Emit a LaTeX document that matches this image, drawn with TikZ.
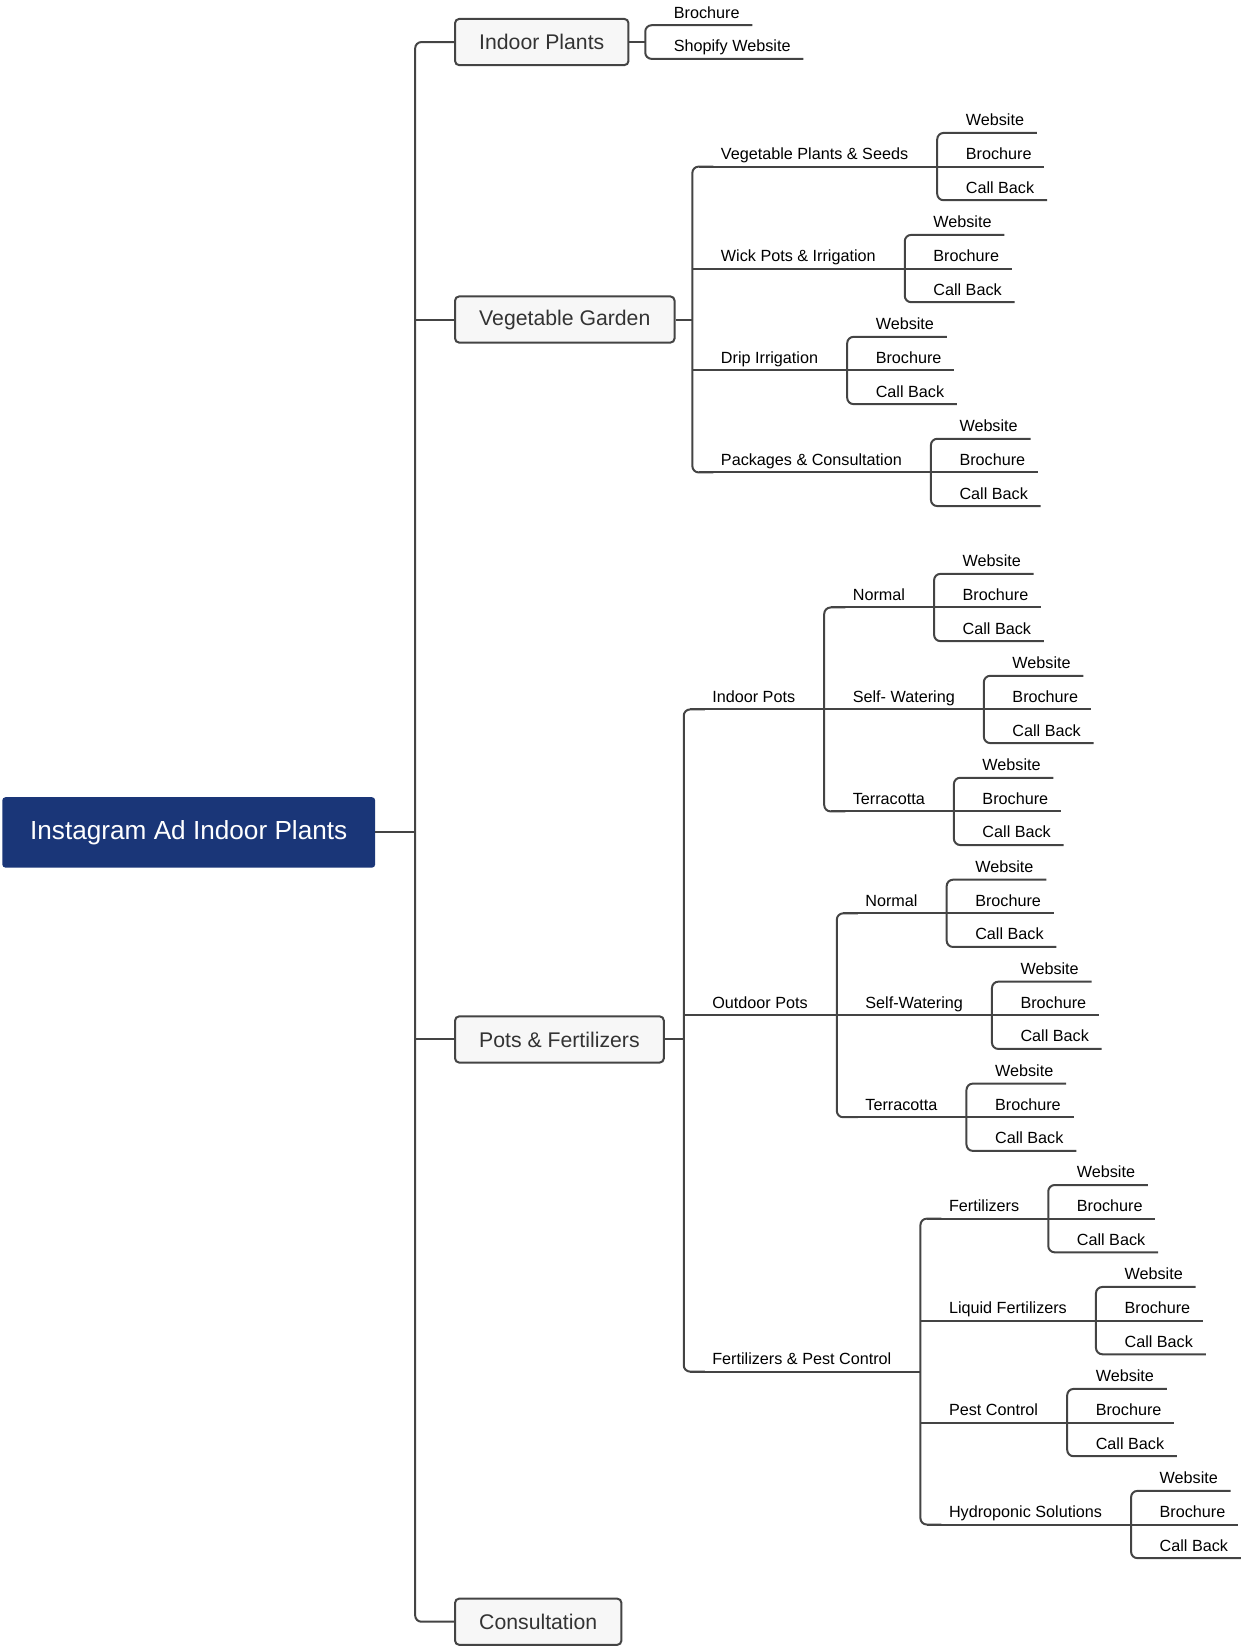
\documentclass[tikz,border=0pt]{standalone}
\usepackage{fontspec}
\setmainfont{Liberation Sans}
\usetikzlibrary{positioning}
\definecolor{rootblue}{RGB}{26,54,120}
\definecolor{linegrey}{RGB}{68,68,68}
\definecolor{boxgrey}{RGB}{247,247,247}
\definecolor{textgrey}{RGB}{51,51,51}

% three standard leaves hanging off a twig (optional arg: skip of the twig line at a rounded corner)
\newcommand{\leaves}[2][0pt]{%
  \node[leaf] (#2-w) at ([yshift=32pt]#2.south east) {Website};
  \node[leaf] (#2-b) at (#2.south east) {Brochure};
  \node[leaf] (#2-c) at ([yshift=-32pt]#2.south east) {Call Back};
  \draw[branch] (#2-w.south east) -- (#2-w.south west) -- (#2-c.south west) -- (#2-c.south east);
  \draw[branch,shorten <=#1] (#2.south west) -- (#2-b.south east);
}

\begin{document}
\begin{tikzpicture}[x=1pt,y=-1pt,
  branch/.style={draw=linegrey,line width=1.9pt,rounded corners=6pt},
  rootbox/.style={fill=rootblue,text=white,rounded corners=3pt,font=\fontsize{24.9}{30}\selectfont,inner xsep=26.5pt,minimum height=67pt,anchor=west},
  topicbox/.style={draw=linegrey,line width=1.9pt,fill=boxgrey,text=textgrey,rounded corners=4pt,font=\fontsize{20.2}{24}\selectfont,inner xsep=23pt,minimum height=44pt,anchor=west},
  twigtext/.style={font=\fontsize{15.4}{18}\selectfont,inner xsep=0pt,inner ysep=6.5pt,text depth=0pt,anchor=south west,execute at begin node={\hspace*{27pt}}},
  twig/.style={twigtext,execute at end node={\hspace*{27.5pt}}},
  leaf/.style={twigtext,execute at end node={\hspace*{12pt}}}]

\useasboundingbox (0,0) rectangle (1180,1568);

% Root and trunk
\node[rootbox] (root) at (2,792) {Instagram Ad Indoor Plants};
\coordinate (trunk) at (395,792);
\draw[branch] (root.east) -- (trunk);

\node[topicbox] (inplants) at (432,40) {Indoor Plants};
\node[topicbox] (veggarden) at (432,304) {Vegetable Garden};
\node[topicbox] (potsfert) at (432,989) {Pots \& Fertilizers};
\node[topicbox] (consult) at (432,1543) {Consultation};

\draw[branch] (inplants.west) -- (inplants.west -| trunk) -- (consult.west -| trunk) -- (consult.west);
\draw[branch] (veggarden.west -| trunk) -- (veggarden.west);
\draw[branch] (potsfert.west -| trunk) -- (potsfert.west);

% Indoor Plants
\coordinate (inpfork) at ([xshift=15pt]inplants.east);
\node[leaf] (inbro) at ([yshift=16pt]inpfork) {Brochure};
\node[leaf] (inshop) at ([yshift=-16pt]inpfork) {Shopify Website};
\draw[branch] (inplants.east) -- (inpfork);
\draw[branch] (inbro.south east) -- (inbro.south west) -- (inshop.south west) -- (inshop.south east);

% Vegetable Garden
\coordinate (vgfork) at ([xshift=16pt]veggarden.east);
\node[twig] (vps) at ([yshift=145.5pt]vgfork) {Vegetable Plants \& Seeds};
\node[twig] (wpi) at ([yshift=48.5pt]vgfork) {Wick Pots \& Irrigation};
\node[twig] (drip) at ([yshift=-48.5pt]vgfork) {Drip Irrigation};
\node[twig] (pack) at ([yshift=-145.5pt]vgfork) {Packages \& Consultation};
\draw[branch] (veggarden.east) -- (vgfork);
\draw[branch] ([xshift=20pt]vps.south west) -- (vps.south west) -- (pack.south west) -- ([xshift=20pt]pack.south west);
\leaves[6pt]{vps} \leaves{wpi} \leaves{drip} \leaves[6pt]{pack}

% Pots & Fertilizers
\coordinate (pffork) at ([xshift=18pt]potsfert.east);
\node[twig] (ipots) at ([yshift=314pt]pffork) {Indoor Pots};
\node[twig] (opots) at ([yshift=23pt]pffork) {Outdoor Pots};
\node[twig] (fpc) at ([yshift=-316pt]pffork) {Fertilizers \& Pest Control};
\draw[branch] (potsfert.east) -- (pffork);
\draw[branch] ([xshift=20pt]ipots.south west) -- (ipots.south west) -- (fpc.south west) -- ([xshift=20pt]fpc.south west);

% indoor pots
\node[twig] (ipnormal) at ([yshift=97pt]ipots.south east) {Normal};
\node[twig] (ipself) at (ipots.south east) {Self- Watering};
\node[twig] (ipterra) at ([yshift=-97pt]ipots.south east) {Terracotta};
\draw[branch,shorten <=6pt] (ipots.south west) -- (ipself.south west);
\draw[branch] ([xshift=20pt]ipnormal.south west) -- (ipnormal.south west) -- (ipterra.south west) -- ([xshift=20pt]ipterra.south west);
\leaves[6pt]{ipnormal} \leaves{ipself} \leaves[6pt]{ipterra}

% outdoor pots
\node[twig] (opnormal) at ([yshift=97pt]opots.south east) {Normal};
\node[twig] (opself) at (opots.south east) {Self-Watering};
\node[twig] (opterra) at ([yshift=-97pt]opots.south east) {Terracotta};
\draw[branch] (opots.south west) -- (opself.south west);
\draw[branch] ([xshift=20pt]opnormal.south west) -- (opnormal.south west) -- (opterra.south west) -- ([xshift=20pt]opterra.south west);
\leaves[6pt]{opnormal} \leaves{opself} \leaves[6pt]{opterra}

% fertilizers & pest control
\node[twig] (fert) at ([yshift=145.5pt]fpc.south east) {Fertilizers};
\node[twig] (liquid) at ([yshift=48.5pt]fpc.south east) {Liquid Fertilizers};
\node[twig] (pest) at ([yshift=-48.5pt]fpc.south east) {Pest Control};
\node[twig] (hydro) at ([yshift=-145.5pt]fpc.south east) {Hydroponic Solutions};
\draw[branch,shorten <=6pt] (fpc.south west) -- (fpc.south east);
\draw[branch] ([xshift=20pt]fert.south west) -- (fert.south west) -- (hydro.south west) -- ([xshift=20pt]hydro.south west);
\leaves[6pt]{fert} \leaves{liquid} \leaves{pest} \leaves[6pt]{hydro}

\end{tikzpicture}
\end{document}
